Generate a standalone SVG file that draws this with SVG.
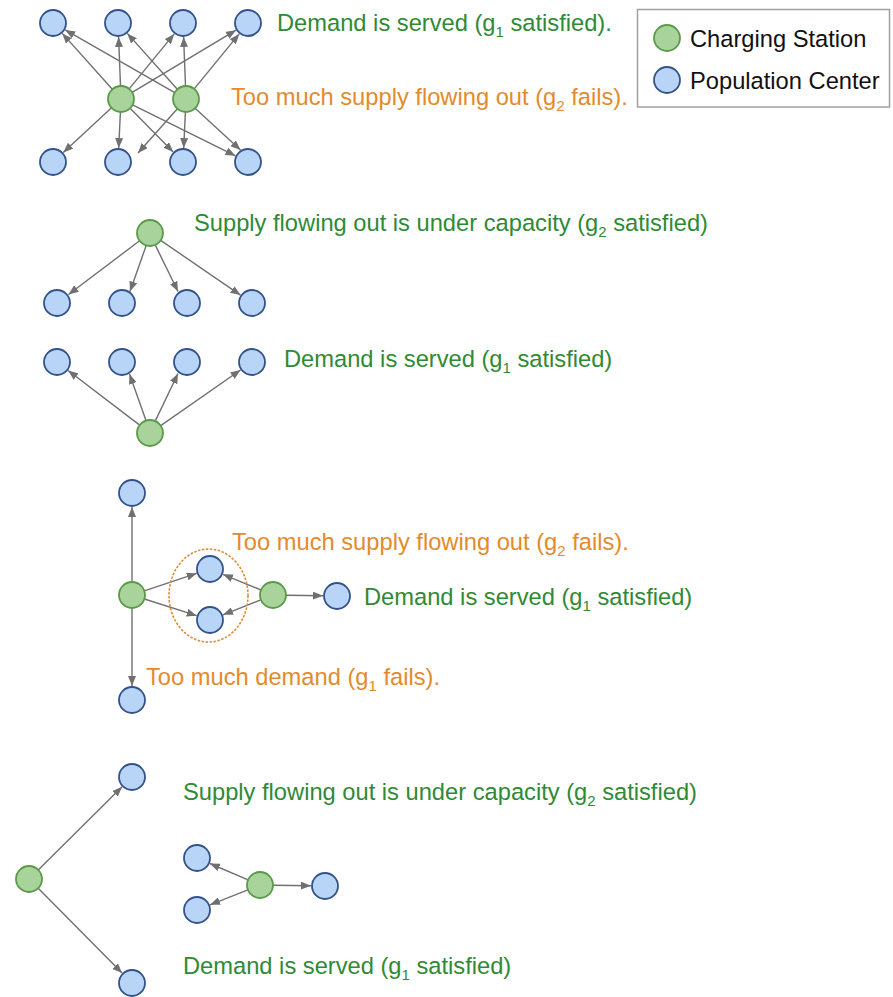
<svg xmlns="http://www.w3.org/2000/svg" width="893" height="997" viewBox="0 0 893 997">
<style>
.pop{fill:#b8d5f8;stroke:#34528a;stroke-width:1.8}
.cs{fill:#a8d49c;stroke:#5b9a48;stroke-width:1.8}
.e{stroke:#707070;stroke-width:1.4;fill:none;marker-end:url(#ah)}
.t{font-family:"Liberation Sans",Arial,sans-serif;font-size:23.7px}
.g{fill:#2f8a35}
.o{fill:#e38b2c}
.k{fill:#111}
.sub{font-size:15px}
</style>
<defs>
<marker id="ah" markerWidth="10" markerHeight="8" refX="10" refY="4" orient="auto" markerUnits="userSpaceOnUse">
<path d="M0,0 L10,4 L0,8 z" fill="#707070"/>
</marker>
</defs>
<rect width="893" height="997" fill="#fff"/>

<g id="connectors">
<!-- section 1 -->
<line class="e" x1="112.3" y1="89.3" x2="62.3" y2="33.4"/>
<line class="e" x1="120.5" y1="86" x2="118.6" y2="37"/>
<line class="e" x1="129.2" y1="88.9" x2="174.2" y2="33.9"/>
<line class="e" x1="132.2" y1="92.3" x2="236" y2="30.2"/>
<line class="e" x1="111.5" y1="107.8" x2="63.3" y2="152.5"/>
<line class="e" x1="120.4" y1="112" x2="118.7" y2="148"/>
<line class="e" x1="130.1" y1="108.3" x2="173.2" y2="152"/>
<line class="e" x1="132.6" y1="104.8" x2="235.5" y2="155.8"/>
<line class="e" x1="174.7" y1="92.6" x2="65.2" y2="29.9"/>
<line class="e" x1="177.3" y1="89.3" x2="127.3" y2="33.4"/>
<line class="e" x1="185.5" y1="86" x2="183.6" y2="37"/>
<line class="e" x1="194.2" y1="88.9" x2="239.2" y2="33.9"/>
<line class="e" x1="177.4" y1="108.7" x2="138" y2="153"/>
<line class="e" x1="185.4" y1="112" x2="183.7" y2="148"/>
<line class="e" x1="195.1" y1="108.3" x2="240.5" y2="150"/>
<!-- section 2 -->
<line class="e" x1="139.6" y1="240.8" x2="68.5" y2="294.5"/>
<line class="e" x1="146.2" y1="245.4" x2="130" y2="291.5"/>
<line class="e" x1="155.2" y1="244.9" x2="178" y2="291.5"/>
<line class="e" x1="160.7" y1="240.4" x2="240.5" y2="295.1"/>
<line class="e" x1="139.7" y1="425.1" x2="68.1" y2="370.5"/>
<line class="e" x1="146" y1="420.6" x2="129.5" y2="374"/>
<line class="e" x1="155.2" y1="421.1" x2="178" y2="373.5"/>
<line class="e" x1="160.7" y1="425.6" x2="240.5" y2="370"/>
<!-- section 3 -->
<line class="e" x1="132" y1="582" x2="132" y2="507"/>
<line class="e" x1="132" y1="608" x2="132" y2="686"/>
<line class="e" x1="144.3" y1="590.9" x2="196.7" y2="573.4"/>
<line class="e" x1="144.4" y1="599" x2="196.7" y2="615.7"/>
<line class="e" x1="261" y1="590" x2="222.9" y2="574.3"/>
<line class="e" x1="260.9" y1="599.8" x2="223" y2="614.8"/>
<line class="e" x1="286" y1="595.2" x2="323" y2="595.8"/>
<!-- section 4 -->
<line class="e" x1="38.2" y1="869.9" x2="122.1" y2="786.8"/>
<line class="e" x1="38.2" y1="888.2" x2="122.1" y2="973.1"/>
<line class="e" x1="248.1" y1="879.9" x2="209.9" y2="863.5"/>
<line class="e" x1="247.9" y1="889.8" x2="210" y2="904.8"/>
<line class="e" x1="273" y1="885.2" x2="311" y2="885.8"/>
</g>

<g id="group-outline">
<ellipse cx="208.5" cy="595.5" rx="39.5" ry="46.5" fill="none" stroke="#e38b2c" stroke-width="1.6" stroke-dasharray="2.5,1.5"/>
</g>

<g id="s1-nodes">
<circle id="s1-t1" class="pop" cx="53" cy="23" r="13"/>
<circle id="s1-t2" class="pop" cx="118" cy="23" r="13"/>
<circle id="s1-t3" class="pop" cx="183" cy="23" r="13"/>
<circle id="s1-t4" class="pop" cx="248" cy="23" r="13"/>
<circle id="s1-g1" class="cs" cx="121" cy="99" r="13"/>
<circle id="s1-g2" class="cs" cx="186" cy="99" r="13"/>
<circle id="s1-b1" class="pop" cx="53" cy="162" r="13"/>
<circle id="s1-b2" class="pop" cx="118" cy="162" r="13"/>
<circle id="s1-b3" class="pop" cx="183" cy="162" r="13"/>
<circle id="s1-b4" class="pop" cx="248" cy="162" r="13"/>
</g>

<g id="s2-nodes">
<circle id="s2-gt" class="cs" cx="150" cy="233" r="13"/>
<circle id="s2-r1" class="pop" cx="57" cy="303" r="13"/>
<circle id="s2-r2" class="pop" cx="122" cy="303" r="13"/>
<circle id="s2-r3" class="pop" cx="187" cy="303" r="13"/>
<circle id="s2-r4" class="pop" cx="252" cy="303" r="13"/>
<circle id="s2-q1" class="pop" cx="57" cy="362" r="13"/>
<circle id="s2-q2" class="pop" cx="122" cy="362" r="13"/>
<circle id="s2-q3" class="pop" cx="187" cy="362" r="13"/>
<circle id="s2-q4" class="pop" cx="252" cy="362" r="13"/>
<circle id="s2-gb" class="cs" cx="150" cy="433" r="13"/>
</g>

<g id="s3-nodes">
<circle id="s3-top" class="pop" cx="132" cy="493" r="13"/>
<circle id="s3-gl" class="cs" cx="132" cy="595" r="13"/>
<circle id="s3-bot" class="pop" cx="132" cy="700" r="13"/>
<circle id="s3-mt" class="pop" cx="210" cy="569" r="13"/>
<circle id="s3-mb" class="pop" cx="210" cy="620" r="13"/>
<circle id="s3-gr" class="cs" cx="273" cy="595" r="13"/>
<circle id="s3-rb" class="pop" cx="337" cy="596" r="13"/>
</g>

<g id="s4-nodes">
<circle id="s4-top" class="pop" cx="132" cy="777" r="13"/>
<circle id="s4-gl" class="cs" cx="29" cy="879" r="13"/>
<circle id="s4-bot" class="pop" cx="132" cy="983" r="13"/>
<circle id="s4-u" class="pop" cx="197" cy="858" r="13"/>
<circle id="s4-l" class="pop" cx="197" cy="910" r="13"/>
<circle id="s4-gm" class="cs" cx="260" cy="885" r="13"/>
<circle id="s4-r" class="pop" cx="325" cy="886" r="13"/>
</g>

<g id="labels">
<text class="t g" x="277" y="31">Demand is served (g<tspan class="sub" dy="6">1</tspan><tspan dy="-6"> satisfied).</tspan></text>
<text class="t o" x="231" y="105">Too much supply flowing out (g<tspan class="sub" dy="6">2</tspan><tspan dy="-6"> fails).</tspan></text>
<text class="t g" x="194" y="231">Supply flowing out is under capacity (g<tspan class="sub" dy="6">2</tspan><tspan dy="-6"> satisfied)</tspan></text>
<text class="t g" x="284" y="367">Demand is served (g<tspan class="sub" dy="6">1</tspan><tspan dy="-6"> satisfied)</tspan></text>
<text class="t o" x="232" y="550">Too much supply flowing out (g<tspan class="sub" dy="6">2</tspan><tspan dy="-6"> fails).</tspan></text>
<text class="t g" x="364" y="605">Demand is served (g<tspan class="sub" dy="6">1</tspan><tspan dy="-6"> satisfied)</tspan></text>
<text class="t o" x="146" y="685">Too much demand (g<tspan class="sub" dy="6">1</tspan><tspan dy="-6"> fails).</tspan></text>
<text class="t g" x="183" y="800">Supply flowing out is under capacity (g<tspan class="sub" dy="6">2</tspan><tspan dy="-6"> satisfied)</tspan></text>
<text class="t g" x="183" y="974">Demand is served (g<tspan class="sub" dy="6">1</tspan><tspan dy="-6"> satisfied)</tspan></text>
</g>

<g id="legend">
<rect x="637.5" y="9.5" width="252" height="97.5" fill="#fff" stroke="#a0a0a0" stroke-width="1.5"/>
<circle class="cs" cx="667" cy="38" r="13"/>
<circle class="pop" cx="667" cy="80" r="13"/>
<text class="t k" x="690" y="46.5">Charging Station</text>
<text class="t k" x="690" y="88.5">Population Center</text>
</g>
</svg>
